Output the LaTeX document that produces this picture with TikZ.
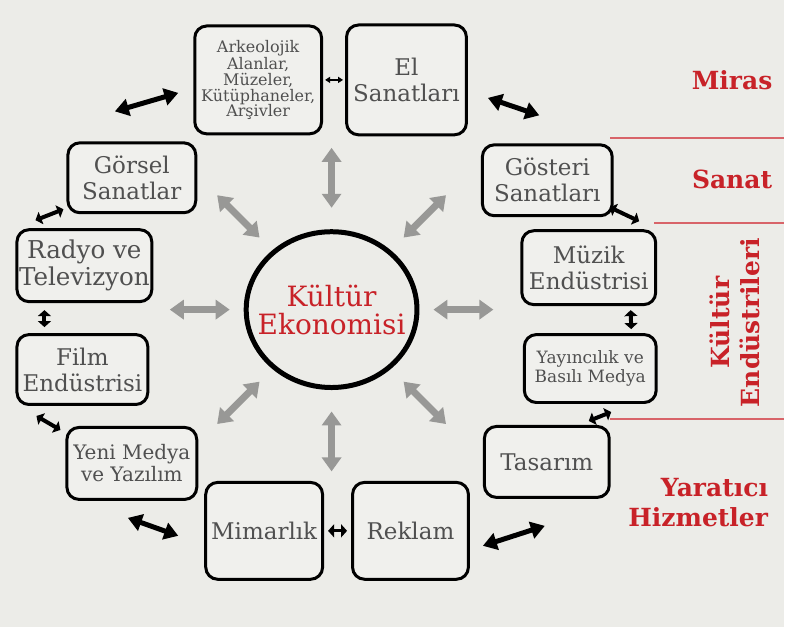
\documentclass[tikz,border=0pt]{standalone}
\usepackage{fontspec}
\setmainfont{DejaVu Serif}
\usetikzlibrary{arrows.meta, shapes.geometric}

\definecolor{bgcol}{RGB}{236,236,232}
\definecolor{boxfill}{RGB}{240,240,237}
\definecolor{boxtext}{RGB}{80,80,80}
\definecolor{arrowgray}{RGB}{152,152,150}
\definecolor{labred}{RGB}{200,34,40}

\begin{document}
\begin{tikzpicture}[
    x=0.5pt, y=-0.5pt,
    box/.style={draw, rounded corners=6pt, line width=1.5pt, fill=boxfill,
                text=boxtext, align=center, inner sep=1pt,
                font=\fontsize{11.5}{13}\selectfont},
    econode/.style={draw, ellipse, line width=2.5pt, text=labred,
                    minimum width=85.5pt, minimum height=78pt,
                    inner xsep=-7pt, inner ysep=0pt,
                    align=center, font=\fontsize{14}{14}\selectfont},
    bedge/.style={{Triangle[length=7pt,width=8.5pt]}-{Triangle[length=7pt,width=8.5pt]},
                  line width=2.5pt},
    sedge/.style={{Triangle[length=3pt,width=6.5pt]}-{Triangle[length=3pt,width=6.5pt]},
                  line width=2pt},
    tedge/.style={{Triangle[length=2.5pt,width=3pt]}-{Triangle[length=2.5pt,width=3pt]},
                  line width=0.7pt},
    gedge/.style={{Triangle[length=7pt,width=9.5pt]}-{Triangle[length=7pt,width=9.5pt]},
                  line width=3.5pt, arrowgray},
    lbl/.style={text=labred, align=center,
                font=\bfseries\fontsize{12.5}{15}\selectfont},
    sepline/.style={labred!70, line width=1pt},
]
\fill[bgcol] (0,0) rectangle (785,628);

% Centre
\node[econode] (eco) at (332,310) {Kültür\\Ekonomisi};

% Ring of sectors, clockwise from top
\node[box, minimum width=63.5pt, minimum height=54pt,
      font=\fontsize{8}{7.8}\selectfont] (arkeo) at (258.5,80)
      {Arkeolojik\\Alanlar,\\Müzeler,\\Kütüphaneler,\\Arşivler};
\node[box, minimum width=60pt, minimum height=55pt] (el) at (407,80) {El\\Sanatları};
\node[box, minimum width=65pt, minimum height=35.5pt] (gosteri) at (548,180.5) {Gösteri\\Sanatları};
\node[box, minimum width=67pt, minimum height=37pt] (muzik) at (589.5,268) {Müzik\\Endüstrisi};
\node[box, minimum width=66pt, minimum height=34pt,
      font=\fontsize{8.5}{9.5}\selectfont] (yayin) at (591,369) {Yayıncılık ve\\Basılı Medya};
\node[box, minimum width=62.5pt, minimum height=35.5pt] (tasarim) at (547.5,462.5) {Tasarım};
\node[box, minimum width=58pt, minimum height=48.5pt] (reklam) at (411,531.5) {Reklam};
\node[box, minimum width=58.5pt, minimum height=48.5pt] (mimar) at (264.5,531.5) {Mimarlık};
\node[box, minimum width=65pt, minimum height=36pt,
      font=\fontsize{10}{11}\selectfont] (yeni) at (132,464) {Yeni Medya\\ve Yazılım};
\node[box, minimum width=65.5pt, minimum height=35pt] (film) at (82.5,370) {Film\\Endüstrisi};
\node[box, minimum width=67.5pt, minimum height=36pt,
      font=\fontsize{12.3}{13.5}\selectfont] (radyo) at (84.5,266) {Radyo ve\\Televizyon};
\node[box, minimum width=64pt, minimum height=35pt] (gorsel) at (132,178) {Görsel\\Sanatlar};

% Grey spokes
\foreach \a in {0,45,...,315}
    \draw[gedge] (eco.center) ++(\a:102) -- ++(\a:60);

% Black links round the ring
\draw[tedge, shorten <=1pt, shorten >=1pt] (arkeo) -- (el);
\draw[bedge] ([shift={(20,18)}]el.east) -- ([shift={(-8,-28)}]gosteri.north);
\draw[sedge] ([shift={(-4,-10)}]gosteri.south east) -- ([shift={(-18,-8)}]muzik.north east);
\draw[sedge] ([shift={(42,4)}]muzik.south) -- ([shift={(41,-4)}]yayin.north);
\draw[sedge] ([shift={(-22,-4)}]tasarim.north east) -- ([shift={(21,8)}]yayin.south);
\draw[bedge] ([shift={(13,15)}]reklam.east) -- ([shift={(-2,27)}]tasarim.south);
\draw[sedge, line width=1.5pt, shorten <=2pt, shorten >=2pt] (mimar) -- (reklam);
\draw[bedge] ([shift={(-4,17)}]yeni.south) -- ([shift={(-26,5)}]mimar.west);
\draw[sedge] ([shift={(21,10)}]film.south west) -- ([shift={(-5,4)}]yeni.north west);
\draw[sedge] ([shift={(29,7)}]radyo.south west) -- ([shift={(29,-6)}]film.north west);
\draw[sedge] ([shift={(-3,-5)}]gorsel.south west) -- ([shift={(20,-8)}]radyo.north west);
\draw[bedge] ([shift={(-17,-30)}]gorsel.north) -- ([shift={(-15,13)}]arkeo.west);

% Groups on the right
\draw[sepline] (611,138) -- (785,138);
\draw[sepline] (655,223) -- (785,223);
\draw[sepline] (611,420) -- (785,420);
\node[lbl] (miras) at (733,80) {Miras};
\node[lbl] (sanat) at (733,180) {Sanat};
\node[lbl, rotate=90] (kultur) at (736,323) {Kültür\\Endüstrileri};
\node[lbl, align=right, anchor=east] (yaratici) at (776,503) {Yaratıcı\\Hizmetler};
\end{tikzpicture}
\end{document}
